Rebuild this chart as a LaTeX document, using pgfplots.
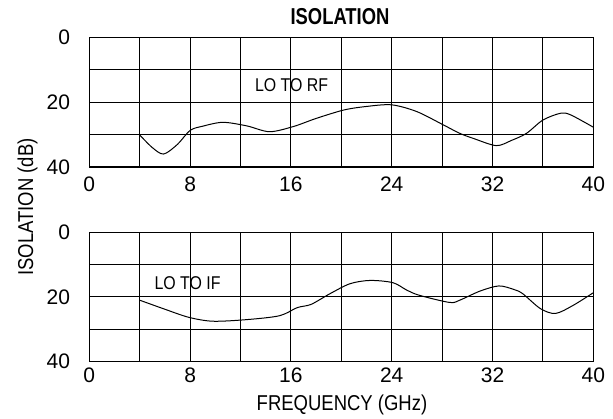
\documentclass[border=0pt]{standalone}
\usepackage{fontspec}
\setmainfont{Liberation Sans}[FakeStretch=0.86]
\newfontfamily\titlefont{Liberation Sans}[FakeStretch=0.8]
\newfontfamily\numfont{Liberation Sans}
\usepackage{pgfplots}
\pgfplotsset{compat=1.18}

\pgfplotsset{
  isoaxis/.style={
    scale only axis, width=504pt, height=129.5pt, anchor=south west,
    xmin=0, xmax=40, ymin=0, ymax=40, y dir=reverse,
    xtick={0,8,...,40}, minor xtick={4,12,...,36},
    ytick={0,20,40}, minor ytick={10,30},
    grid=both,
    major grid style={black, line width=1.1pt},
    minor grid style={black, line width=1.1pt},
    axis line style={black, line width=1.2pt},
    major tick length=0pt, minor tick length=0pt,
    /pgf/number format/assume math mode=true,
    tick label style={font=\numfont\fontsize{21}{24}\selectfont},
    yticklabel style={anchor=east, inner sep=0pt, xshift=-19pt},
    xticklabel style={anchor=north, inner sep=0pt},
  },
  curve/.style={black, line width=1pt, smooth, tension=0.5, no marks},
}

\begin{document}
\begin{tikzpicture}[x=1pt,y=1pt]
\useasboundingbox (0,0) rectangle (613,419);

% LO to RF
\begin{axis}[isoaxis, at={(89.3pt,252pt)}, xticklabel style={yshift=-10pt}]
\addplot[curve] coordinates {
  (4,30.1) (5.0,34.0) (5.9,36.0) (7,33.0) (8,28.7) (9,27.4) (10.6,26.2)
  (12.5,27.3) (14.3,29.1) (16.2,27.5) (18,25.0) (20.2,22.4) (22,21.3)
  (24,20.8) (26,22.9) (28.1,27.0) (29.4,29.6) (30.5,31.2) (32.3,33.4)
  (33.5,31.8) (34.7,29.6) (36,25.5) (37.4,23.4) (38.2,23.9) (40,27.7)
};
\node[font=\fontsize{18.5}{20}\selectfont] at (axis cs:16.06,14.8) {LO TO RF};
\end{axis}

% LO to IF
\begin{axis}[isoaxis, at={(89.3pt,57.3pt)}, xticklabel style={yshift=-6pt}]
\addplot[curve] coordinates {
  (4,21.0) (6,23.8) (7.9,26.3) (9.8,27.5) (12.5,27.0) (15.1,25.8)
  (16.5,23.3) (17.6,22.3) (19.1,19.0) (20.7,15.9) (22.3,14.9) (24.1,15.6)
  (25.2,17.9) (26.2,19.5) (28.6,21.7) (29.4,21.0) (31.0,18.2) (32.5,16.6)
  (33.7,17.7) (34.4,19.0) (35.8,23.6) (37.0,25.1) (38.4,22.6) (40,18.7)
};
\node[font=\fontsize{18.5}{20}\selectfont] at (axis cs:7.8,15.8) {LO TO IF};
\end{axis}

\node[anchor=base, font=\titlefont\bfseries\fontsize{23}{26}\selectfont] at (340,394) {ISOLATION};
\node[anchor=base, rotate=90, font=\fontsize{21.5}{24}\selectfont] at (33,212) {ISOLATION (dB)};
\node[anchor=base, font=\fontsize{21.5}{24}\selectfont] at (342,8) {FREQUENCY (GHz)};
\end{tikzpicture}
\end{document}
